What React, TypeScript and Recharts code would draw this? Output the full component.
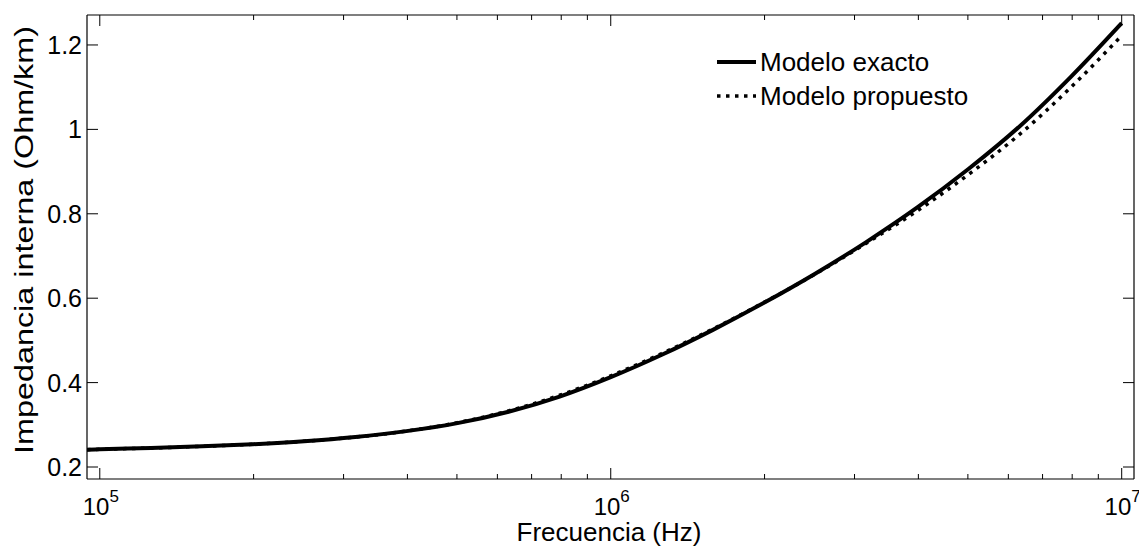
import { LineChart, Line, XAxis, YAxis } from "recharts";

const frequencies = [
  94400, 1e5, 1.259e5, 1.585e5, 1.995e5, 2.512e5, 3.162e5, 3.981e5, 5.012e5, 6.31e5, 7.943e5,
  1e6, 1.259e6, 1.585e6, 1.995e6, 2.512e6, 3.162e6, 3.981e6, 5.012e6, 6.31e6, 7.943e6, 1e7,
];
const exacto = [
  0.241, 0.242, 0.245, 0.249, 0.254, 0.261, 0.271, 0.285, 0.304, 0.331, 0.367,
  0.413, 0.466, 0.525, 0.589, 0.658, 0.733, 0.815, 0.906, 1.007, 1.124, 1.252,
];
const propuesto = [
  0.241, 0.242, 0.245, 0.249, 0.254, 0.261, 0.271, 0.285, 0.305, 0.333, 0.37,
  0.416, 0.469, 0.527, 0.59, 0.657, 0.73, 0.807, 0.893, 0.988, 1.099, 1.222,
];

const xTicks = [
  1e5, 2e5, 3e5, 4e5, 5e5, 6e5, 7e5, 8e5, 9e5,
  1e6, 2e6, 3e6, 4e6, 5e6, 6e6, 7e6, 8e6, 9e6, 1e7,
];
const majorX = [1e5, 1e6, 1e7];
const yTicks = [0.2, 0.4, 0.6, 0.8, 1, 1.2];

const W = 1139;
const H = 547;
const TOP = 15;
const LEFT = 87;
const RIGHT = 1134;
const BOTTOM = 479;
const FONT = "'Liberation Sans', Arial, sans-serif";
const X_DOMAIN = [94400, 10570000];
const Y_DOMAIN = [0.1716, 1.271];

const data = frequencies.map((f, i) => ({
  f,
  exacto: exacto[i],
  propuesto: propuesto[i],
}));

const isMajor = (v: number) => majorX.includes(v);

const BottomTick = ({ x, payload }: any) => {
  const v = payload.value;
  const major = isMajor(v);
  return (
    <g>
      <line x1={x} x2={x} y1={BOTTOM} y2={BOTTOM - (major ? 11 : 5)} stroke="#000" strokeWidth={1} />
      {major && (
        <text x={x + 1} y={515} textAnchor="middle" fontSize={24} fontFamily={FONT} fill="#000">
          10
          <tspan dy={-13} fontSize={17}>{Math.round(Math.log10(v))}</tspan>
        </text>
      )}
    </g>
  );
};

const TopTick = ({ x, payload }: any) => {
  const major = isMajor(payload.value);
  return <line x1={x} x2={x} y1={TOP} y2={TOP + (major ? 11 : 5)} stroke="#000" strokeWidth={1} />;
};

const LeftTick = ({ y, payload }: any) => (
  <g>
    <line x1={LEFT} x2={LEFT + 11} y1={y} y2={y} stroke="#000" strokeWidth={1} />
    <text x={82} y={y} dy="0.36em" textAnchor="end" fontSize={25} fontFamily={FONT} fill="#000">
      {payload.value}
    </text>
  </g>
);

const RightTick = ({ y }: any) => (
  <line x1={RIGHT} x2={RIGHT - 11} y1={y} y2={y} stroke="#000" strokeWidth={1} />
);

// leyenda dibujada a mano, encima del gráfico
const LegendBox = () => (
  <svg width={300} height={80} style={{ display: "block" }}>
    <line x1={7} x2={46} y1={17} y2={17} stroke="#000" strokeWidth={4} />
    <text x={50} y={17} dy="0.36em" fontSize={26} fontFamily={FONT} fill="#000">
      Modelo exacto
    </text>
    <line x1={7} x2={46} y1={51} y2={51} stroke="#000" strokeWidth={3.5} strokeDasharray="3.5 5.5" />
    <text x={50} y={51} dy="0.36em" fontSize={26} fontFamily={FONT} fill="#000">
      Modelo propuesto
    </text>
  </svg>
);

export default function App() {
  return (
    <div style={{ position: "absolute", left: 0, top: 0, width: W, height: H, background: "#fff" }}>
      <LineChart width={W} height={H} data={data} margin={{ top: TOP - 1, right: W - RIGHT - 1, bottom: 0, left: 0 }}>
        <XAxis
          xAxisId="b"
          dataKey="f"
          type="number"
          scale="log"
          domain={X_DOMAIN}
          allowDataOverflow
          ticks={xTicks}
          interval={0}
          height={H - BOTTOM}
          tickLine={false}
          axisLine={{ stroke: "#000", strokeWidth: 1.2 }}
          tick={<BottomTick />}
          label={{
            content: () => (
              <text x={609} y={541} textAnchor="middle" fontSize={26} fontFamily={FONT} fill="#000">
                Frecuencia (Hz)
              </text>
            ),
          }}
        />
        <XAxis
          xAxisId="t"
          orientation="top"
          dataKey="f"
          type="number"
          scale="log"
          domain={X_DOMAIN}
          allowDataOverflow
          ticks={xTicks}
          interval={0}
          height={1}
          tickLine={false}
          axisLine={{ stroke: "#000", strokeWidth: 1.2 }}
          tick={<TopTick />}
        />
        <YAxis
          yAxisId="l"
          type="number"
          domain={Y_DOMAIN}
          allowDataOverflow
          ticks={yTicks}
          interval={0}
          width={LEFT}
          tickLine={false}
          axisLine={{ stroke: "#000", strokeWidth: 1.2 }}
          tick={<LeftTick />}
          label={{
            content: () => (
              <text
                x={24}
                y={240}
                transform="rotate(-90 24 240)"
                textAnchor="middle"
                dy="0.36em"
                fontSize={25}
                textLength={428}
                lengthAdjust="spacingAndGlyphs"
                fontFamily={FONT}
                fill="#000"
              >
                Impedancia interna (Ohm/km)
              </text>
            ),
          }}
        />
        <YAxis
          yAxisId="r"
          orientation="right"
          type="number"
          domain={Y_DOMAIN}
          allowDataOverflow
          ticks={yTicks}
          interval={0}
          width={1}
          tickLine={false}
          axisLine={{ stroke: "#000", strokeWidth: 1.2 }}
          tick={<RightTick />}
        />
        <Line
          xAxisId="b"
          yAxisId="l"
          dataKey="exacto"
          type="monotone"
          stroke="#000"
          strokeWidth={4}
          dot={false}
          isAnimationActive={false}
        />
        <Line
          xAxisId="t"
          yAxisId="r"
          dataKey="propuesto"
          type="monotone"
          stroke="#000"
          strokeWidth={3.5}
          strokeDasharray="3.5 5.5"
          dot={false}
          isAnimationActive={false}
        />
      </LineChart>
      <div style={{ position: "absolute", left: 710, top: 45 }}>
        <LegendBox />
      </div>
    </div>
  );
}
